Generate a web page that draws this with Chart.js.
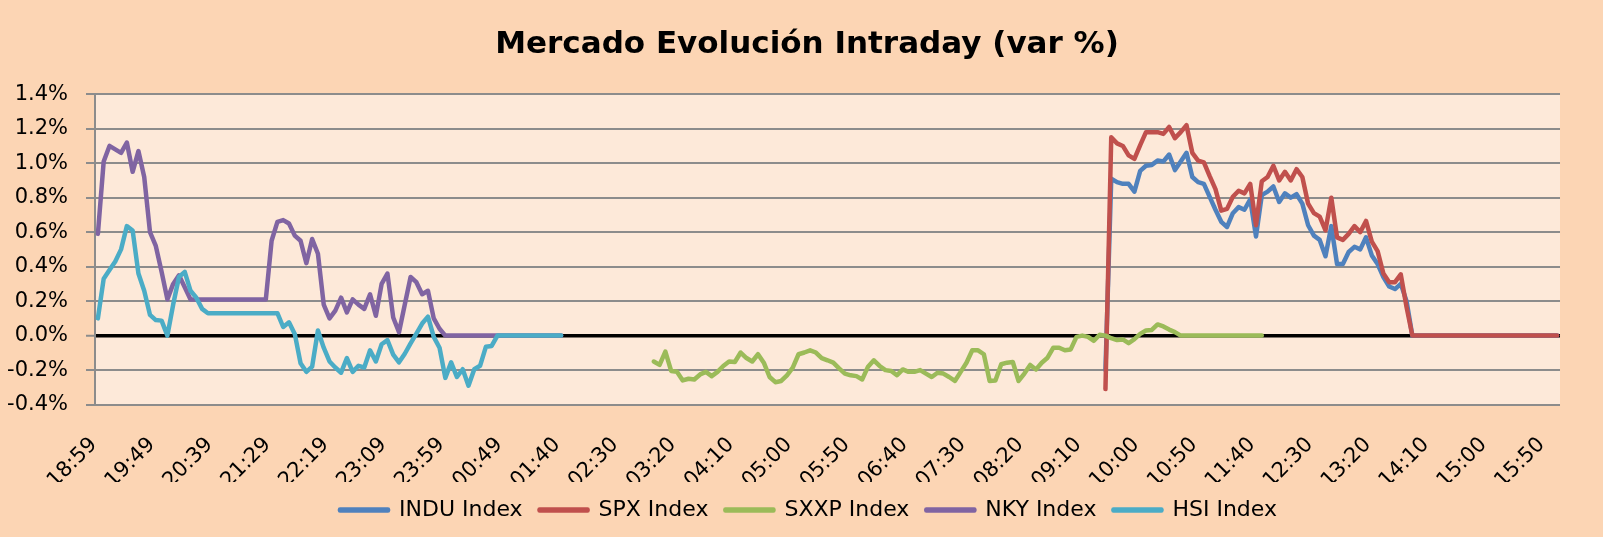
<!DOCTYPE html>
<html>
<head>
<meta charset="utf-8">
<title>Mercado Evolución Intraday</title>
<script src="https://cdn.jsdelivr.net/npm/chart.js@4.4.1/dist/chart.umd.min.js"></script>
<style>
  html, body { margin: 0; padding: 0; background: #fcd5b4; }
  #chart { display: block; }
</style>
</head>
<body>
<canvas id="chart" width="1603" height="537"></canvas>
<script>
// One category every ~5 minutes, a label every 10 categories
const pointCount = 253;
const tickEvery = 10;
const tickLabels = ['18:59', '19:49', '20:39', '21:29', '22:19', '23:09', '23:59', '00:49', '01:40',
    '02:30', '03:20', '04:10', '05:00', '05:50', '06:40', '07:30', '08:20', '09:10', '10:00',
    '10:50', '11:40', '12:30', '13:20', '14:10', '15:00', '15:50'];

// Series values (var %), each starting at a category index
const induStart = 174;
const induValues = [-0.2, 0.91, 0.89, 0.88, 0.88, 0.835, 0.955, 0.985, 0.99, 1.015,
    1.01, 1.05, 0.96, 1.01, 1.06, 0.92, 0.89, 0.88, 0.805, 0.73,
    0.66, 0.63, 0.71, 0.745, 0.73, 0.79, 0.575, 0.815, 0.835, 0.865,
    0.775, 0.825, 0.80, 0.82, 0.765, 0.64, 0.58, 0.555, 0.46, 0.635,
    0.415, 0.415, 0.485, 0.515, 0.50, 0.57, 0.465, 0.415, 0.34, 0.285,
    0.27, 0.30, 0.20, 0, 0, 0, 0, 0, 0, 0,
    0, 0, 0, 0, 0, 0, 0, 0, 0, 0,
    0, 0, 0, 0, 0, 0, 0, 0, 0];

const spxStart = 174;
const spxValues = [-0.31, 1.15, 1.115, 1.10, 1.045, 1.025, 1.105, 1.18, 1.18, 1.18,
    1.17, 1.21, 1.145, 1.18, 1.22, 1.06, 1.015, 1.005, 0.925, 0.85,
    0.725, 0.735, 0.805, 0.84, 0.825, 0.88, 0.64, 0.895, 0.92, 0.985,
    0.90, 0.95, 0.90, 0.965, 0.92, 0.765, 0.71, 0.69, 0.61, 0.80,
    0.57, 0.555, 0.59, 0.635, 0.60, 0.665, 0.545, 0.49, 0.36, 0.31,
    0.31, 0.355, 0.165, 0, 0, 0, 0, 0, 0, 0,
    0, 0, 0, 0, 0, 0, 0, 0, 0, 0,
    0, 0, 0, 0, 0, 0, 0, 0, 0];

const sxxpStart = 96;
const sxxpValues = [-0.15, -0.17, -0.093, -0.205, -0.21, -0.26, -0.25, -0.254, -0.225, -0.21,
    -0.235, -0.21, -0.176, -0.15, -0.153, -0.098, -0.13, -0.15, -0.108, -0.157,
    -0.24, -0.27, -0.263, -0.23, -0.186, -0.108, -0.098, -0.085, -0.098, -0.13,
    -0.143, -0.157, -0.19, -0.22, -0.23, -0.235, -0.254, -0.18, -0.143, -0.176,
    -0.20, -0.205, -0.23, -0.196, -0.21, -0.21, -0.20, -0.22, -0.24, -0.215,
    -0.22, -0.24, -0.263, -0.21, -0.157, -0.085, -0.085, -0.108, -0.263, -0.26,
    -0.166, -0.157, -0.153, -0.263, -0.22, -0.17, -0.196, -0.157, -0.128, -0.07,
    -0.07, -0.085, -0.08, -0.007, 0.0, -0.007, -0.03, 0.005, 0.0, -0.015,
    -0.026, -0.022, -0.044, -0.02, 0.01, 0.03, 0.033, 0.065, 0.053, 0.035,
    0.02, 0, 0, 0, 0, 0, 0, 0, 0, 0,
    0, 0, 0, 0, 0, 0];

const nkyStart = 0;
const nkyValues = [0.59, 1.01, 1.10, 1.08, 1.06, 1.12, 0.95, 1.07, 0.92, 0.60,
    0.52, 0.37, 0.21, 0.30, 0.35, 0.28, 0.21, 0.21, 0.21, 0.21,
    0.21, 0.21, 0.21, 0.21, 0.21, 0.21, 0.21, 0.21, 0.21, 0.21,
    0.55, 0.66, 0.67, 0.65, 0.58, 0.55, 0.42, 0.56, 0.475, 0.18,
    0.10, 0.145, 0.22, 0.135, 0.21, 0.18, 0.155, 0.24, 0.115, 0.30,
    0.36, 0.105, 0.02, 0.18, 0.34, 0.31, 0.24, 0.26, 0.10, 0.04,
    0, 0, 0, 0, 0, 0, 0, 0, 0, 0,
    0, 0, 0, 0, 0, 0, 0, 0, 0, 0,
    0];

const hsiStart = 0;
const hsiValues = [0.10, 0.33, 0.38, 0.43, 0.50, 0.635, 0.61, 0.36, 0.26, 0.12,
    0.09, 0.087, 0.0, 0.18, 0.34, 0.37, 0.26, 0.22, 0.155, 0.13,
    0.13, 0.13, 0.13, 0.13, 0.13, 0.13, 0.13, 0.13, 0.13, 0.13,
    0.13, 0.13, 0.05, 0.077, 0.01, -0.16, -0.21, -0.18, 0.03, -0.07,
    -0.15, -0.185, -0.215, -0.13, -0.21, -0.175, -0.185, -0.085, -0.15, -0.05,
    -0.026, -0.11, -0.155, -0.105, -0.045, 0.012, 0.07, 0.11, -0.007, -0.07,
    -0.245, -0.155, -0.24, -0.195, -0.29, -0.195, -0.175, -0.065, -0.06, 0,
    0, 0, 0, 0, 0, 0, 0, 0, 0, 0,
    0];

// put a series on the full category axis, null outside its trading window
function placeSeries(start, values) {
    const out = new Array(pointCount).fill(null);
    values.forEach((v, i) => { out[start + i] = v; });
    return out;
}

const categories = Array.from({ length: pointCount }, (_, i) =>
    (i % tickEvery === 0 ? tickLabels[i / tickEvery] : ''));

function lineSet(label, color, data, order) {
    return {
        label: label,
        data: data,
        borderColor: color,
        backgroundColor: color,
        borderWidth: 4.5,
        pointRadius: 0,
        tension: 0,
        borderCapStyle: 'round',
        borderJoinStyle: 'round',
        order: order
    };
}

const isZero = (v) => Math.abs(v) < 1e-9;

// fills outer area and plot area like the Excel chart
const backgroundPlugin = {
    id: 'plotBackground',
    beforeDraw(chart) {
        const { ctx, chartArea, width, height } = chart;
        ctx.save();
        ctx.fillStyle = '#fcd5b4';
        ctx.fillRect(0, 0, width, height);
        ctx.fillStyle = '#fde9d9';
        ctx.fillRect(chartArea.left, chartArea.top, chartArea.right - chartArea.left, chartArea.bottom - chartArea.top);
        ctx.restore();
    }
};

// title and legend are centred a bit right of the canvas middle in the original
const centerShiftPlugin = {
    id: 'centerShift',
    afterLayout(chart) {
        if (chart.titleBlock) chart.titleBlock.left = 45;
        if (chart.legend) chart.legend.left = 48;
    }
};

Chart.defaults.font.family = "'DejaVu Sans', sans-serif";
Chart.defaults.color = '#000';

new Chart(document.getElementById('chart').getContext('2d'), {
    type: 'line',
    data: {
        labels: categories,
        datasets: [
            // later series sit on top, as in Excel
            lineSet('INDU Index', '#4f81bd', placeSeries(induStart, induValues), 5),
            lineSet('SPX Index', '#c0504d', placeSeries(spxStart, spxValues), 4),
            lineSet('SXXP Index', '#9bbb59', placeSeries(sxxpStart, sxxpValues), 3),
            lineSet('NKY Index', '#8064a2', placeSeries(nkyStart, nkyValues), 2),
            lineSet('HSI Index', '#4bacc6', placeSeries(hsiStart, hsiValues), 1)
        ]
    },
    options: {
        responsive: false,
        animation: false,
        devicePixelRatio: 1,
        layout: { padding: { left: 0, right: 34, top: 0, bottom: 6 } },
        plugins: {
            title: {
                display: true,
                text: 'Mercado Evolución Intraday (var %)',
                font: { size: 31, weight: 'bold' },
                padding: { top: 26, bottom: 31 }
            },
            legend: {
                position: 'bottom',
                labels: {
                    font: { size: 22 },
                    boxWidth: 48,
                    boxHeight: 1,
                    padding: 17,
                    sort: (a, b) => a.datasetIndex - b.datasetIndex
                }
            },
            tooltip: { enabled: false }
        },
        scales: {
            x: {
                offset: true,
                grid: { display: false, drawTicks: false },
                border: { display: false },
                ticks: {
                    autoSkip: false,
                    maxRotation: 45,
                    minRotation: 45,
                    padding: 28,
                    labelOffset: -4,
                    font: { size: 21 }
                },
                afterFit: (scale) => { scale.height = 77.4; }
            },
            y: {
                min: -0.4,
                max: 1.4,
                grid: {
                    color: (ctx) => (isZero(ctx.tick.value) ? '#000' : '#8c8c8c'),
                    lineWidth: (ctx) => (isZero(ctx.tick.value) ? 3.5 : 2),
                    tickColor: '#8c8c8c',
                    tickWidth: 2,
                    tickLength: 9
                },
                border: { color: '#8c8c8c', width: 2 },
                ticks: {
                    stepSize: 0.2,
                    padding: 18,
                    font: { size: 21 },
                    callback: (v) => (isZero(v) ? 0 : v).toFixed(1) + '%'
                },
                afterFit: (scale) => { scale.width = 95; }
            }
        }
    },
    plugins: [backgroundPlugin, centerShiftPlugin]
});
</script>
</body>
</html>
